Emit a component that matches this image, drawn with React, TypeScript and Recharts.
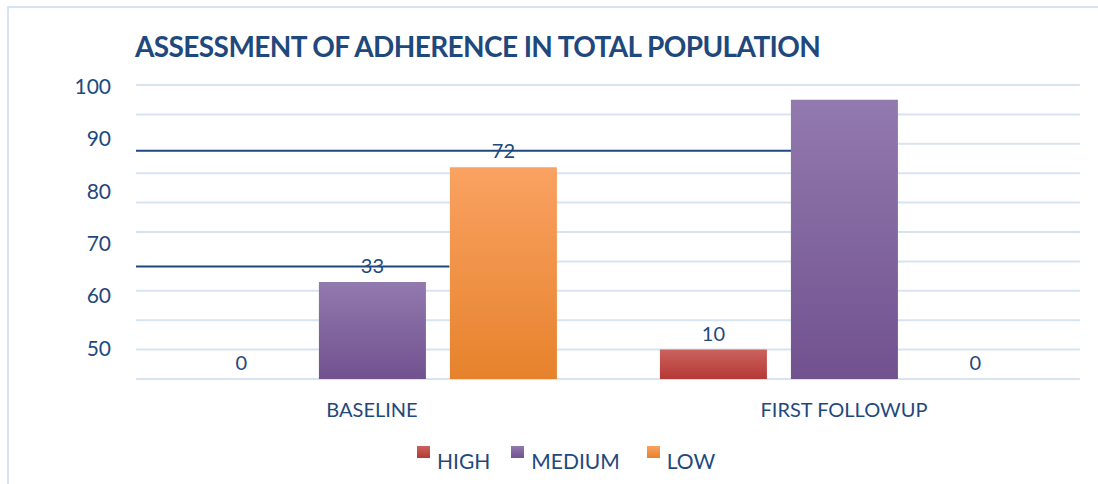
import React from "react";
import { BarChart, Bar, XAxis, YAxis, CartesianGrid, ReferenceLine, LabelList } from "recharts";

const categories = ["BASELINE", "FIRST FOLLOWUP"];
const high = [0, 10];
const medium = [33, 95];
const low = [72, 0];
const highLabels = ["0", "10"];
const mediumLabels = ["33", ""];
const lowLabels = ["72", "0"];
const gridTicks = [0, 10, 20, 30, 50, 60, 70, 90];
const pctTicks = [50, 60, 70, 80, 90, 100];
const seriesNames = ["HIGH", "MEDIUM", "LOW"];

const TEXT = "#1F497D";
const GRID = "#D9E4F2";
const FONT = "Lato, 'Open Sans', sans-serif";

const grads = [
  { id: "gHigh", top: "#CB625D", bottom: "#B53935" },
  { id: "gMed", top: "#9279AE", bottom: "#71528F" },
  { id: "gLow", top: "#FAA262", bottom: "#E6822C" },
];

const data = categories.map((c, i) => ({
  name: c,
  high: high[i],
  medium: medium[i],
  low: low[i],
  highLabel: highLabels[i],
  mediumLabel: mediumLabels[i],
  lowLabel: lowLabels[i],
}));

// gridline that was shoved down and darkened on its left part
const splitLine = (darkEnd: number, lightStart: number, drop: number) => (p: any) => {
  const w = p.x2 - p.x1;
  return (
    <g>
      <line x1={p.x1} x2={p.x1 + w * darkEnd} y1={p.y1 + drop} y2={p.y1 + drop} stroke={TEXT} strokeWidth={2} />
      <line x1={p.x1 + w * lightStart} x2={p.x2} y1={p.y1} y2={p.y1} stroke={GRID} strokeWidth={2} />
    </g>
  );
};

const labelStyle = { fill: TEXT, fontSize: 20, fontFamily: FONT };

export default function App() {
  return (
    <div style={{ position: "fixed", left: 0, top: 0, width: 1098, height: 484, overflow: "hidden", background: "#fff", fontFamily: FONT }}>
      <div style={{ position: "absolute", left: 7, top: 6, width: 1200, height: 600, border: "2px solid #D6E3F3" }} />
      <div style={{ position: "absolute", left: 135, top: 32, fontSize: 28, lineHeight: 1, fontWeight: 700, color: TEXT, whiteSpace: "nowrap", letterSpacing: -0.6 }}>
        ASSESSMENT OF ADHERENCE IN TOTAL POPULATION
      </div>
      <div style={{ position: "absolute", left: 0, top: 0 }}>
        <BarChart width={1098} height={484} data={data} margin={{ top: 85, right: 18, bottom: 0, left: 36 }} barCategoryGap="11%" barGap={24}>
          <defs>
            {grads.map((g) => (
              <linearGradient key={g.id} id={g.id} x1="0" y1="0" x2="0" y2="1">
                <stop offset="0%" stopColor={g.top} />
                <stop offset="100%" stopColor={g.bottom} />
              </linearGradient>
            ))}
          </defs>
          <CartesianGrid vertical={false} stroke={GRID} strokeWidth={2} />
          <XAxis dataKey="name" axisLine={false} tickLine={false} tickSize={0} tickMargin={24} height={105} tick={{ fill: TEXT, fontSize: 20, fontFamily: FONT }} />
          <YAxis hide domain={[0, 100]} ticks={gridTicks} />
          <YAxis yAxisId="pct" type="number" domain={[44.1, 100.3]} allowDataOverflow ticks={pctTicks} width={100} axisLine={false} tickLine={false} tickSize={0} tickMargin={-35} tick={{ fill: TEXT, fontSize: 21, fontFamily: FONT }} />
          <ReferenceLine y={80} ifOverflow="visible" zIndex={-50} shape={splitLine(0.694, 0.806, 7)} />
          <ReferenceLine y={40} ifOverflow="visible" zIndex={-50} shape={splitLine(0.332, 0.445, 5)} />
          <Bar dataKey="high" name={seriesNames[0]} fill="url(#gHigh)" minPointSize={0.01} isAnimationActive={false}>
            <LabelList dataKey="highLabel" position="top" offset={9} style={labelStyle} />
          </Bar>
          <Bar dataKey="medium" name={seriesNames[1]} fill="url(#gMed)" minPointSize={0.01} isAnimationActive={false}>
            <LabelList dataKey="mediumLabel" position="top" offset={9} style={labelStyle} />
          </Bar>
          <Bar dataKey="low" name={seriesNames[2]} fill="url(#gLow)" minPointSize={0.01} isAnimationActive={false}>
            <LabelList dataKey="lowLabel" position="top" offset={9} style={labelStyle} />
          </Bar>
        </BarChart>
      </div>
      <div style={{ position: "absolute", left: 417, top: 446, display: "flex", alignItems: "flex-start", fontSize: 21, color: TEXT, lineHeight: 1 }}>
        {seriesNames.map((n, i) => (
          <div key={n} style={{ display: "flex", alignItems: "flex-start", marginRight: i === 0 ? 21 : 27 }}>
            <div style={{ width: 13, height: 12, background: `linear-gradient(${grads[i].top}, ${grads[i].bottom})`, marginRight: 7 }} />
            <span style={{ marginTop: 4 }}>{n}</span>
          </div>
        ))}
      </div>
    </div>
  );
}
